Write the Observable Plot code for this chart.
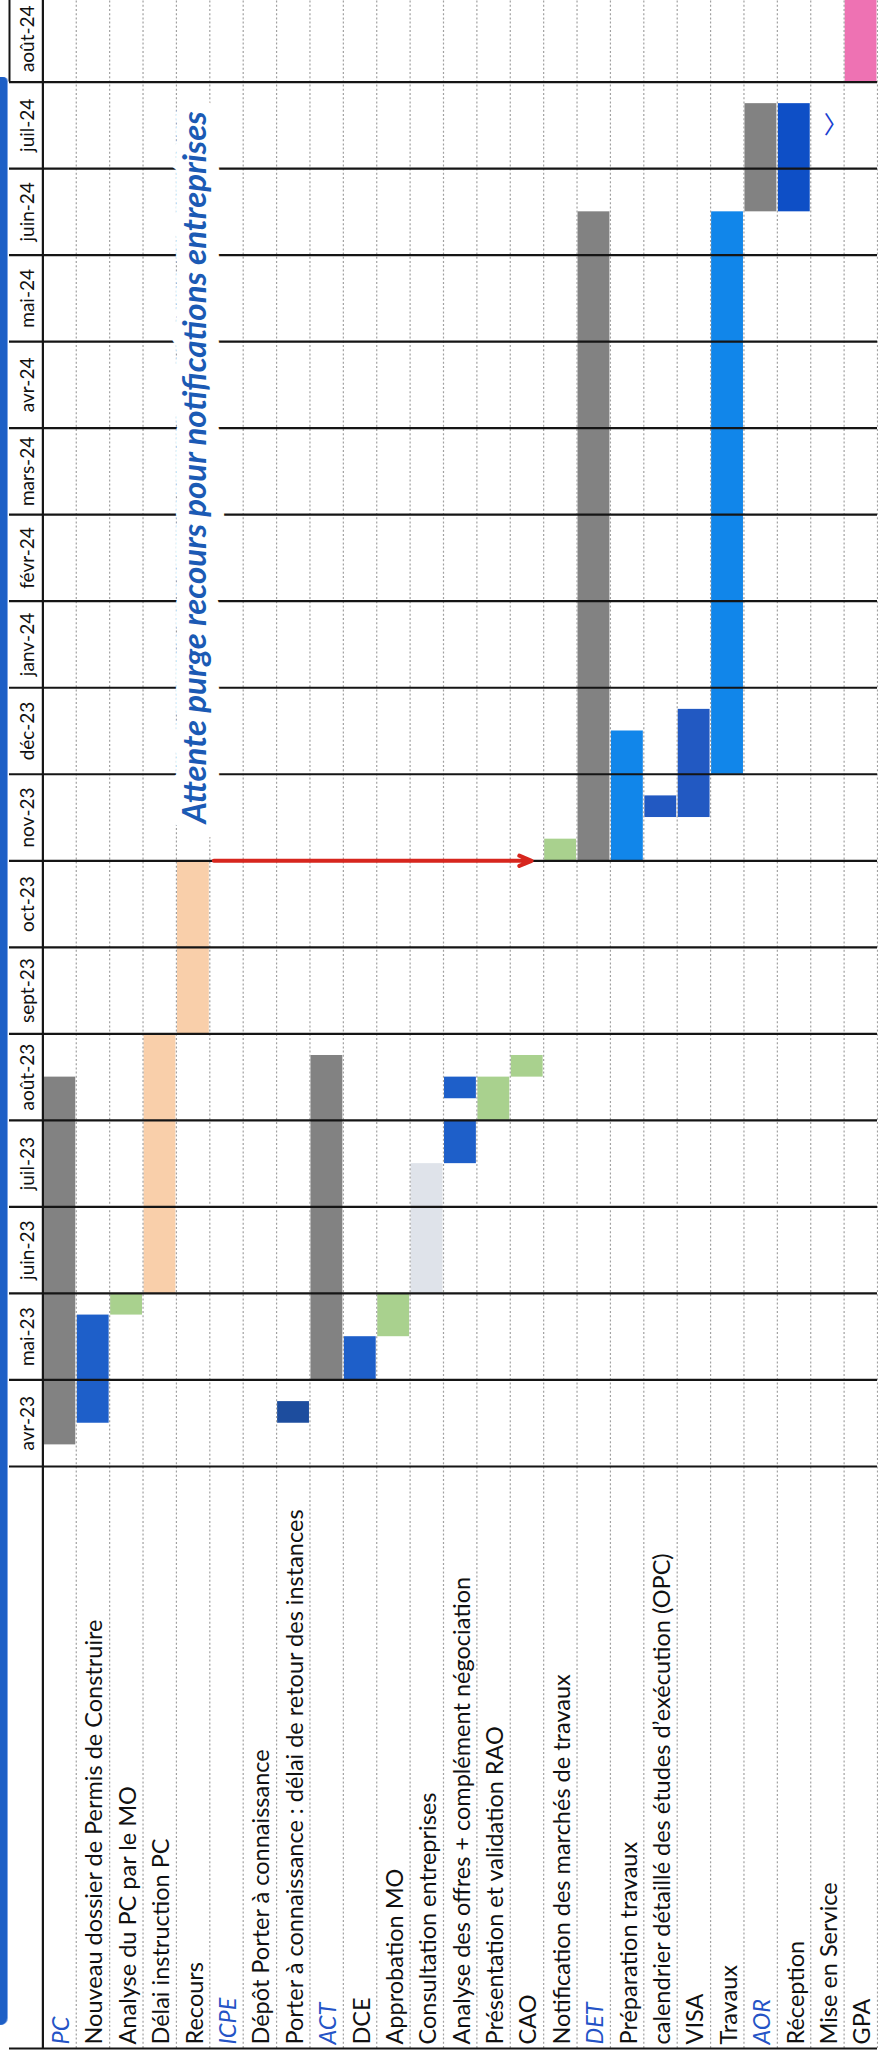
<!DOCTYPE html>
<html>
<head>
<meta charset="utf-8">
<script src="https://cdn.jsdelivr.net/npm/d3@7"></script>
<script src="https://cdn.jsdelivr.net/npm/@observablehq/plot@0.6"></script>
<style>
  body { margin: 0; background: #fff; }
  #wrap { position: relative; width: 878px; height: 2056px; overflow: hidden; background: #fff; }
  #chart { position: absolute; left: 0; top: 0; }
  #strip { position: absolute; left: 0; top: 77px; width: 7px; height: 1948px; background: #1d5fc6;
           border-radius: 0 6px 10px 0; box-shadow: 1px 0 0 #7fa6e6; }
</style>
</head>
<body>
<div id="wrap"><div id="chart"></div><div id="strip"></div></div>
<script>
// ---- Data -------------------------------------------------------------
const months = ["avr-23","mai-23","juin-23","juil-23","août-23","sept-23","oct-23","nov-23",
                "déc-23","janv-24","févr-24","mars-24","avr-24","mai-24","juin-24","juil-24","août-24"];

const tasks = ["PC","Nouveau dossier de Permis de Construire","Analyse du PC par le MO",
  "Délai instruction PC","Recours","ICPE","Dépôt Porter à connaissance",
  "Porter à connaissance : délai de retour des instances","ACT","DCE","Approbation MO",
  "Consultation entreprises","Analyse des offres + complément négociation",
  "Présentation et validation RAO","CAO","Notification des marchés de travaux","DET",
  "Préparation travaux","calendrier détaillé des études d’exécution (OPC)","VISA","Travaux",
  "AOR","Réception","Mise en Service","GPA"];

const groups = ["PC","ICPE","ACT","DET","AOR"];

// bars: start / end in months counted from 1 April 2023
const barTask  = ["PC","Nouveau dossier de Permis de Construire","Analyse du PC par le MO",
  "Délai instruction PC","Recours","Porter à connaissance : délai de retour des instances",
  "ACT","DCE","Approbation MO","Consultation entreprises",
  "Analyse des offres + complément négociation","Analyse des offres + complément négociation",
  "Présentation et validation RAO","CAO","Notification des marchés de travaux","DET",
  "Préparation travaux","calendrier détaillé des études d’exécution (OPC)","VISA","Travaux",
  "AOR","Réception","GPA"];
const barStart = [0.25, 0.5, 1.75, 2.0, 5.0, 0.5, 1.0, 1.0, 1.5, 2.0, 3.5, 4.25, 4.0, 4.5,
                  7.0, 7.0, 7.0, 7.5, 7.5, 8.0, 14.5, 14.5, 16.0];
const barEnd   = [4.5, 1.75, 2.0, 5.0, 7.0, 0.75, 4.75, 1.5, 2.0, 3.5, 4.0, 4.5, 4.5, 4.75,
                  7.25, 14.5, 8.5, 7.75, 8.75, 14.5, 15.75, 15.75, 17.0];
const barKind  = ["phase","etude","validation","attente","attente","depot","phase","etude",
  "validation","consultation","etude","etude","validation","validation","validation","phase",
  "travaux","execution","execution","travaux","phase","reception","garantie"];

const kinds      = ["phase","etude","validation","attente","depot","consultation","travaux","execution","reception","garantie"];
const kindColors = ["#828282","#1e5fc9","#a9d18e","#f9cfaa","#1d4d9e","#dfe3ea","#1186ea","#2259c2","#0e4fc6","#ee72b3"];

const notes  = [{text: "Attente purge recours pour notifications entreprises", task: "Recours", month: 7.43}];
const arrows = [{from: "Recours", to: "Notification des marchés de travaux", month: 7.0}];
const checks = [{task: "Mise en Service", month: 15.5, mark: "〉"}];

// ---- Chart ------------------------------------------------------------
const yMin = -6.726, yMax = 17;
const idx = t => tasks.indexOf(t);
const bars = barTask.map((t, i) => ({row: idx(t), start: barStart[i], end: barEnd[i], kind: barKind[i]}));
const taskRows = tasks.map((t, i) => ({t, i}));
const monthRows = months.map((m, i) => ({m, i}));

const svg = Plot.plot({
  width: 878, height: 2056, margin: 0,
  style: {fontFamily: "Lato, 'Open Sans', sans-serif", background: "white"},
  x: {type: "linear", domain: [-1, tasks.length], range: [9, 877], axis: null},
  y: {type: "linear", domain: [yMin, yMax], range: [2048, -5], axis: null},
  color: {type: "ordinal", domain: kinds, range: kindColors},
  marks: [
    Plot.rect(bars, {x1: d => d.row, x2: d => d.row + 1, y1: "start", y2: "end", fill: "kind",
                     insetLeft: 1, insetRight: 0.5}),
    Plot.ruleX(d3.range(1, tasks.length + 1), {y1: yMin, y2: yMax, stroke: "#a0a0a0",
                     strokeWidth: 1.2, strokeDasharray: "2,2.2"}),
    Plot.ruleY(d3.range(0, months.length), {x1: -1, x2: tasks.length, stroke: "#151515", strokeWidth: 2.2}),
    Plot.ruleY([yMin], {x1: -1, x2: tasks.length, stroke: "#151515", strokeWidth: 2.2}),
    Plot.ruleX([0], {y1: yMin, y2: yMax, stroke: "#151515", strokeWidth: 2.2}),
    Plot.ruleX([-1], {y1: months.length - 1, y2: yMax, stroke: "#151515", strokeWidth: 2}),
    Plot.text(notes, {x: d => idx(d.task) + 0.56, y: "month", text: "text", rotate: -90,
                      textAnchor: "start", fontSize: 33, fontWeight: "bold", fontStyle: "italic",
                      fontFamily: "Lato", fill: "#1b5ab4", stroke: "white", strokeWidth: 26,
                      strokeLinejoin: "round"}),
    Plot.arrow(arrows, {x1: d => idx(d.from) + 1.12, x2: d => idx(d.to) - 0.36, y1: "month", y2: "month",
                        stroke: "#d7261e", strokeWidth: 4, headLength: 5, headAngle: 45}),
    Plot.text(checks, {x: d => idx(d.task) + 0.75, y: "month", text: "mark", fontSize: 24,
                       fontFamily: "'Noto Sans CJK SC'", fill: "#1a3fd0"}),
    Plot.text(monthRows, {x: -0.45, y: d => d.i + 0.5, text: "m", rotate: -90, fontSize: 19,
                          fill: "#111", ariaLabel: "months"}),
    Plot.text(taskRows.filter(d => !groups.includes(d.t)), {x: d => d.i + 0.5, y: yMin, text: "t",
                          rotate: -90, textAnchor: "start", dy: -4, dx: 2, fontSize: 23.5, fill: "#111"}),
    Plot.text(taskRows.filter(d => groups.includes(d.t)), {x: d => d.i + 0.5, y: yMin, text: "t",
                          rotate: -90, textAnchor: "start", dy: -4, dx: 2, fontSize: 23.5, fill: "#2453c6",
                          fontStyle: "italic"})
  ]
});
d3.select(svg).selectAll('g[aria-label="months"] text').style("letter-spacing", "1px");
document.getElementById("chart").append(svg);
</script>
</body>
</html>
